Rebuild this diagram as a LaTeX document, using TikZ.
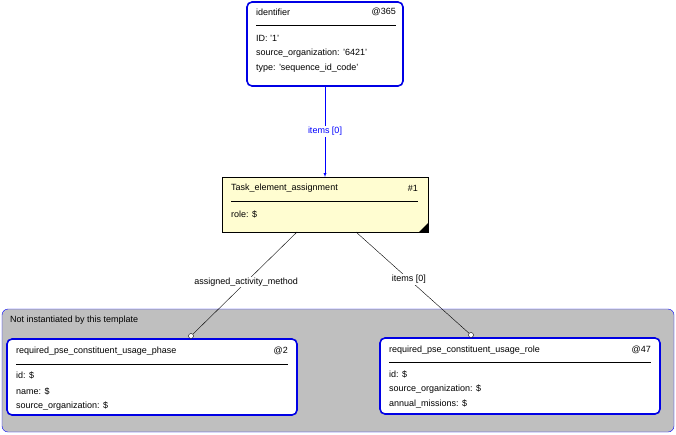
\documentclass[tikz,border=0pt]{standalone}
\usepackage{fontspec}
\setmainfont{Liberation Sans}
\begin{document}
\begin{tikzpicture}[x=1pt,y=-1pt,
  box/.style={draw=blue!90!black,line width=1.6pt,rounded corners=5pt,fill=white},
  txt/.style={anchor=west,inner sep=0pt,font=\fontsize{9}{11}\selectfont},
  rtxt/.style={anchor=east,inner sep=0pt,font=\fontsize{9}{11}\selectfont},
  lbl/.style={fill=white,inner sep=1pt,font=\fontsize{9}{11}\selectfont}]
\useasboundingbox (0,0) rectangle (676,434);
% background group
\draw[blue,fill=black!25,rounded corners=6pt] (2,309) rectangle (674,432);
\node[txt] (nit) at (10,320) {Not instantiated by this template};
% identifier
\draw[box] (247,2) rectangle (403,86);
\node[inner sep=0pt] (idb) at (325,44) [minimum width=156pt,minimum height=84pt] {};
\node[txt] (idt) at (256,12) {identifier};
\node[rtxt] (idn) at (396,12) {@365};
\draw (256,25) -- (396,25);
\node[txt] at (256,38) {ID: '1'};
\node[txt] at (256,53) {source\_organization: '6421'};
\node[txt] at (256,68) {type: 'sequence\_id\_code'};
% task
\node[draw=black,fill=yellow!18,minimum width=206pt,minimum height=55pt,inner sep=0pt] (task) at (325,204.5) {};
\fill (428,232) -- (428,223) -- (419,232) -- cycle;
\node[txt] at (231,188) {Task\_element\_assignment};
\node[rtxt] at (418,188) {\#1};
\draw (231,201) -- (418,201);
\node[txt] at (231,214) {role: \$};
% phase
\draw[box] (7,339) rectangle (297,415);
\node[inner sep=0pt,minimum width=290pt,minimum height=76pt] (ph) at (152,377) {};
\node[txt] at (16,351) {required\_pse\_constituent\_usage\_phase};
\node[rtxt] at (288,351) {@2};
\draw (16,364) -- (288,364);
\node[txt] at (16,375) {id: \$};
\node[txt] at (16,391) {name: \$};
\node[txt] at (16,406) {source\_organization: \$};
% role
\draw[box] (380,338) rectangle (660,414);
\node[inner sep=0pt,minimum width=280pt,minimum height=76pt] (ro) at (520,376) {};
\node[txt] at (389,350) {required\_pse\_constituent\_usage\_role};
\node[rtxt] at (651,350) {@47};
\draw (389,362) -- (651,362);
\node[txt] at (389,374) {id: \$};
\node[txt] at (389,389) {source\_organization: \$};
\node[txt] at (389,404) {annual\_missions: \$};
% connectors
\coordinate (a1) at (325,86);
\coordinate (a2) at (325,177);
\draw[blue,-latex] (a1) -- node[lbl]{items [0]} (a2);
\coordinate (b1) at (297,232);
\coordinate (b2) at (191,336);
\draw (b1) -- node[lbl,pos=0.48]{assigned\_activity\_method} (b2);
\draw[fill=white] (b2) circle (2.5pt);
\coordinate (c1) at (356,232);
\coordinate (c2) at (471,335);
\draw (c1) -- node[lbl,pos=0.46]{items [0]} (c2);
\draw[fill=white] (c2) circle (2.5pt);
\end{tikzpicture}
\end{document}
